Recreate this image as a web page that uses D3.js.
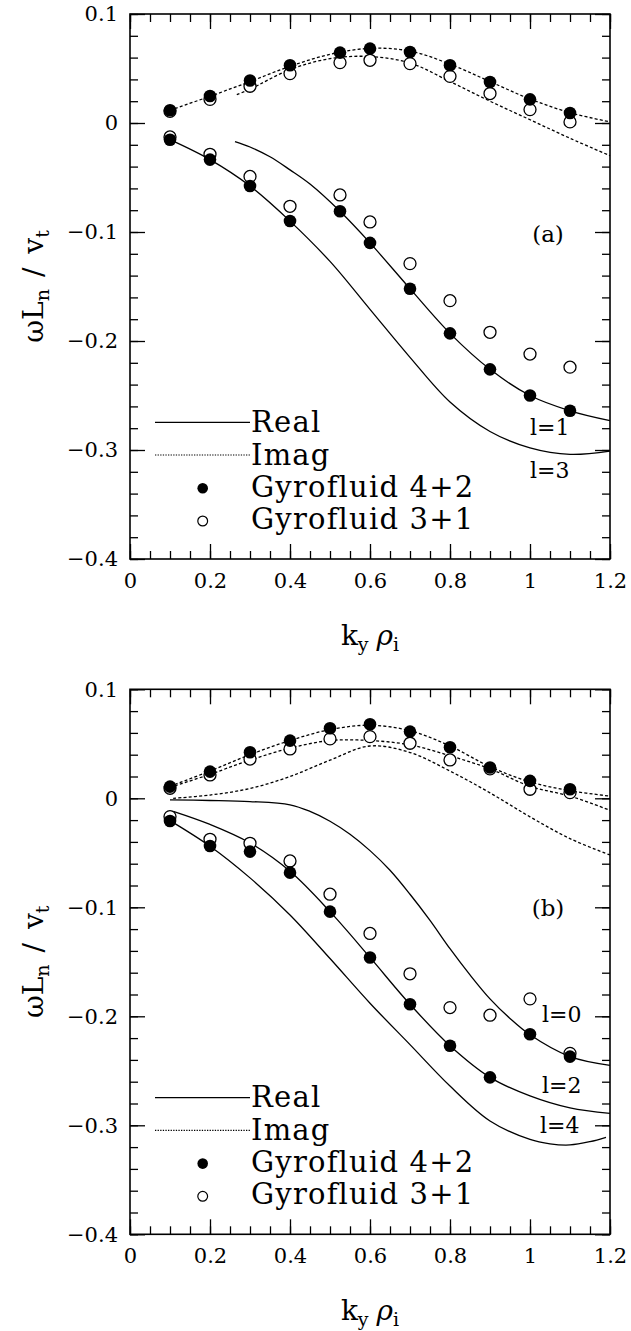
<!DOCTYPE html>
<html>
<head>
<meta charset="utf-8">
<script src="https://cdn.jsdelivr.net/npm/d3@7"></script>
<style>
  body { margin: 0; background: #fff; }
  text { font-family: "DejaVu Serif", serif; fill: #000; }
</style>
</head>
<body>
<div id="viz"></div>
<script>
// tick values / labels
const xMajorTicks = [0, 0.2, 0.4, 0.6, 0.8, 1, 1.2];
const xTickLabels = ['0', '0.2', '0.4', '0.6', '0.8', '1', '1.2'];
const yMajorTicks = [-0.4, -0.3, -0.2, -0.1, 0, 0.1];
const yTickLabels = ['\u22120.4', '\u22120.3', '\u22120.2', '\u22120.1', '0', '0.1'];

// panel (a) gyrofluid points
const kA = [0.1, 0.2, 0.3, 0.4, 0.525, 0.6, 0.7, 0.8, 0.9, 1.0, 1.1];
const aFilledRe = [-0.0153, -0.0336, -0.0578, -0.0899, -0.081, -0.110, -0.152, -0.193, -0.226, -0.250, -0.264];
const aFilledIm = [0.0117, 0.0248, 0.039, 0.053, 0.0646, 0.0682, 0.0652, 0.053, 0.0376, 0.0217, 0.0092];
const aOpenRe = [-0.0128, -0.0287, -0.049, -0.0764, -0.066, -0.0908, -0.129, -0.163, -0.192, -0.212, -0.224];
const aOpenIm = [0.0107, 0.0217, 0.0337, 0.0453, 0.0554, 0.0575, 0.0545, 0.0428, 0.027, 0.0123, 0.001];

// panel (a) kinetic curves
const kA3 = [0.1, 0.2, 0.3, 0.4, 0.5, 0.6, 0.7, 0.8, 0.9, 1.0, 1.1, 1.2];
const aL3Re = [-0.0153, -0.0336, -0.0578, -0.090, -0.127, -0.171, -0.215, -0.256, -0.283, -0.298, -0.304, -0.301];
const aL3Im = [0.0117, 0.0245, 0.038, 0.052, 0.063, 0.0685, 0.066, 0.054, 0.038, 0.022, 0.0095, 0.001];
const kA1 = [0.2625, 0.3, 0.35, 0.4, 0.45, 0.525, 0.6, 0.7, 0.8, 0.9, 1.0, 1.1, 1.2];
const aL1Re = [-0.017, -0.022, -0.031, -0.043, -0.056, -0.081, -0.110, -0.152, -0.193, -0.226, -0.250, -0.264, -0.273];
const kA1i = [0.267, 0.3, 0.4, 0.5, 0.6, 0.7, 0.8, 0.9, 1.0, 1.1, 1.2];
const aL1Im = [0.026, 0.031, 0.049, 0.059, 0.061, 0.055, 0.038, 0.020, 0.003, -0.014, -0.030];

// panel (b) gyrofluid points
const kB = [0.1, 0.2, 0.3, 0.4, 0.5, 0.6, 0.7, 0.8, 0.9, 1.0, 1.1];
const bFilledRe = [-0.0208, -0.0437, -0.0489, -0.0682, -0.104, -0.146, -0.189, -0.227, -0.256, -0.2165, -0.237];
const bFilledIm = [0.0107, 0.0245, 0.0422, 0.0529, 0.0642, 0.0679, 0.0612, 0.0468, 0.0282, 0.016, 0.0083];
const bOpenRe = [-0.0168, -0.0376, -0.0413, -0.0575, -0.088, -0.124, -0.161, -0.192, -0.199, -0.184, -0.234];
const bOpenIm = [0.0092, 0.0214, 0.036, 0.0453, 0.0545, 0.0566, 0.0505, 0.0352, 0.027, 0.0083, 0.0052];

// panel (b) kinetic curves
const kB0 = [0.1, 0.2, 0.3, 0.4, 0.45, 0.5, 0.55, 0.6, 0.65, 0.7, 0.75, 0.8, 0.85, 0.9, 0.95, 1.0, 1.1, 1.2];
const bL0Re = [-0.0015, -0.002, -0.003, -0.006, -0.012, -0.021, -0.033, -0.048, -0.066, -0.088, -0.112, -0.138, -0.162, -0.184, -0.202, -0.217, -0.237, -0.245];
const kB2 = [0.108, 0.2, 0.3, 0.4, 0.5, 0.6, 0.7, 0.8, 0.9, 1.0, 1.1, 1.2];
const bL2Re = [-0.012, -0.024, -0.041, -0.067, -0.104, -0.146, -0.189, -0.227, -0.256, -0.273, -0.284, -0.289];
const kB4 = [0.1, 0.2, 0.3, 0.4, 0.5, 0.6, 0.7, 0.8, 0.9, 1.0, 1.05, 1.1, 1.15, 1.19];
const bL4Re = [-0.0205, -0.044, -0.073, -0.107, -0.147, -0.188, -0.226, -0.264, -0.296, -0.313, -0.317, -0.318, -0.315, -0.311];
const kBi = [0.1, 0.2, 0.3, 0.4, 0.5, 0.6, 0.7, 0.8, 0.9, 1.0, 1.1, 1.2];
const bImTop = [0.011, 0.025, 0.040, 0.053, 0.063, 0.067, 0.062, 0.048, 0.029, 0.015, 0.007, 0.002];
const bImMid = [0.010, 0.022, 0.035, 0.046, 0.053, 0.053, 0.049, 0.039, 0.027, 0.011, 0.002, -0.011];
const kBlow = [0.108, 0.2, 0.3, 0.4, 0.5, 0.6, 0.7, 0.8, 0.9, 1.0, 1.1, 1.2];
const bImLow = [0, 0.003, 0.009, 0.020, 0.035, 0.048, 0.042, 0.025, 0.005, -0.017, -0.037, -0.052];

const left = 130;
const plotW = 480;
const plotH = 545;

const svg = d3.select('#viz')
      .append('svg')
      .attr('width', 631)
      .attr('height', 1331);

const x = d3.scaleLinear().domain([0, 1.2]).range([0, plotW]);
const y = d3.scaleLinear().domain([-0.4, 0.1]).range([plotH, 0]);

const xMinor = d3.range(0, 25).map(i => i * 0.05);
const yMinor = d3.range(0, 26).map(i => -0.4 + i * 0.02);

const line = d3.line()
      .x(d => x(d[0]))
      .y(d => y(d[1]))
      .curve(d3.curveCatmullRom.alpha(0.5));

function zip(ks, vs) {
    return ks.map((k, i) => [k, vs[i]]);
}

function styleAxis(g) {
    g.select('.domain').remove();
    g.selectAll('line').attr('stroke', '#000').attr('stroke-width', 1.3);
    g.selectAll('text')
        .attr('font-family', 'DejaVu Serif')
        .attr('font-size', 21)
        .attr('fill', '#000');
}

function drawPanel(top, panel) {
    const g = svg.append('g').attr('transform', `translate(${left} ${top})`);

    // ticks on all four sides, pointing in
    g.append('g').attr('transform', `translate(0 ${plotH})`)
        .call(d3.axisBottom(x).tickValues(xMinor).tickSize(-8).tickFormat(''))
        .call(styleAxis);
    g.append('g').attr('transform', `translate(0 ${plotH})`)
        .call(d3.axisBottom(x).tickValues(xMajorTicks).tickSize(-15).tickPadding(14)
              .tickFormat((d, i) => xTickLabels[i]))
        .call(styleAxis);
    g.append('g')
        .call(d3.axisTop(x).tickValues(xMinor).tickSize(-8).tickFormat(''))
        .call(styleAxis);
    g.append('g')
        .call(d3.axisTop(x).tickValues(xMajorTicks).tickSize(-15).tickFormat(''))
        .call(styleAxis);
    g.append('g')
        .call(d3.axisLeft(y).tickValues(yMinor).tickSize(-8).tickFormat(''))
        .call(styleAxis);
    g.append('g')
        .call(d3.axisLeft(y).tickValues(yMajorTicks).tickSize(-15).tickPadding(12)
              .tickFormat((d, i) => yTickLabels[i]))
        .call(styleAxis);
    g.append('g').attr('transform', `translate(${plotW} 0)`)
        .call(d3.axisRight(y).tickValues(yMinor).tickSize(-8).tickFormat(''))
        .call(styleAxis);
    g.append('g').attr('transform', `translate(${plotW} 0)`)
        .call(d3.axisRight(y).tickValues(yMajorTicks).tickSize(-15).tickFormat(''))
        .call(styleAxis);

    g.append('rect')
        .attr('width', plotW)
        .attr('height', plotH)
        .attr('fill', 'none')
        .attr('stroke', '#000')
        .attr('stroke-width', 1.6);

    // curves
    panel.real.forEach(c => {
        g.append('path')
            .attr('d', line(c))
            .attr('fill', 'none')
            .attr('stroke', '#000')
            .attr('stroke-width', 1.3);
    });
    panel.imag.forEach(c => {
        g.append('path')
            .attr('d', line(c))
            .attr('fill', 'none')
            .attr('stroke', '#000')
            .attr('stroke-width', 1.3)
            .attr('stroke-dasharray', '3,2.2');
    });

    // gyrofluid points
    const open = panel.open.flat();
    const filled = panel.filled.flat();
    g.selectAll('circle.open')
        .data(open)
        .enter().append('circle')
        .attr('cx', d => x(d[0]))
        .attr('cy', d => y(d[1]))
        .attr('r', 6)
        .attr('fill', '#fff')
        .attr('stroke', '#000')
        .attr('stroke-width', 1.3);
    g.selectAll('circle.filled')
        .data(filled)
        .enter().append('circle')
        .attr('cx', d => x(d[0]))
        .attr('cy', d => y(d[1]))
        .attr('r', 6.3)
        .attr('fill', '#000');

    // legend
    g.append('line')
        .attr('x1', 25).attr('x2', 120)
        .attr('y1', 408.3).attr('y2', 408.3)
        .attr('stroke', '#000').attr('stroke-width', 1.3);
    g.append('line')
        .attr('x1', 25).attr('x2', 120)
        .attr('y1', 441).attr('y2', 441)
        .attr('stroke', '#000').attr('stroke-width', 1.2)
        .attr('stroke-dasharray', '1.3,1.3');
    g.append('circle')
        .attr('cx', 72.7).attr('cy', 474.3).attr('r', 5.3)
        .attr('fill', '#000');
    g.append('circle')
        .attr('cx', 72.7).attr('cy', 507).attr('r', 4.9)
        .attr('fill', '#fff').attr('stroke', '#000').attr('stroke-width', 1.2);

    const legendText = ['Real', 'Imag', 'Gyrofluid 4+2', 'Gyrofluid 3+1'];
    const legendY = [417.7, 451, 482.7, 515];
    legendText.forEach((t, i) => {
        g.append('text')
            .attr('x', 121)
            .attr('y', legendY[i])
            .attr('font-size', 29)
            .attr('letter-spacing', 1.2)
            .text(t);
    });

    // panel tag and mode labels
    g.append('text')
        .attr('x', 418)
        .attr('y', panel.tagY)
        .attr('text-anchor', 'middle')
        .attr('font-size', 23)
        .text(panel.tag);
    panel.modes.forEach(m => {
        g.append('text')
            .attr('x', m.x)
            .attr('y', m.y)
            .attr('font-size', 22)
            .text(m.t);
    });

    // axis titles
    const xl = g.append('text')
        .attr('x', plotW / 2)
        .attr('y', 631)
        .attr('text-anchor', 'middle')
        .attr('font-size', 28);
    xl.append('tspan').text('k');
    xl.append('tspan').attr('font-size', 19).attr('dy', 6).text('y');
    xl.append('tspan').attr('dy', -6).attr('dx', 8).attr('font-style', 'italic').text('\u03c1');
    xl.append('tspan').attr('font-size', 19).attr('dy', 6).text('i');

    const yl = g.append('text')
        .attr('transform', `translate(${43 - left} ${plotH / 2}) rotate(-90)`)
        .attr('text-anchor', 'middle')
        .attr('font-size', 28);
    yl.append('tspan').text('\u03c9L');
    yl.append('tspan').attr('font-size', 19).attr('dy', 6).text('n');
    yl.append('tspan').attr('dy', -6).attr('dx', 12).text('/');
    yl.append('tspan').attr('dx', 14).text('v');
    yl.append('tspan').attr('font-size', 19).attr('dy', 6).text('t');
}

drawPanel(14, {
    real: [zip(kA3, aL3Re), zip(kA1, aL1Re)],
    imag: [zip(kA3, aL3Im), zip(kA1i, aL1Im)],
    filled: [zip(kA, aFilledRe), zip(kA, aFilledIm)],
    open: [zip(kA, aOpenRe), zip(kA, aOpenIm)],
    tag: '(a)',
    tagY: 228,
    modes: [{t: 'l=1', x: 400, y: 421}, {t: 'l=3', x: 400, y: 464}]
});

drawPanel(689.3, {
    real: [zip(kB0, bL0Re), zip(kB2, bL2Re), zip(kB4, bL4Re)],
    imag: [zip(kBi, bImTop), zip(kBi, bImMid), zip(kBlow, bImLow)],
    filled: [zip(kB, bFilledRe), zip(kB, bFilledIm)],
    open: [zip(kB, bOpenRe), zip(kB, bOpenIm)],
    tag: '(b)',
    tagY: 226.7,
    modes: [{t: 'l=0', x: 412, y: 332.7}, {t: 'l=2', x: 412, y: 403.7}, {t: 'l=4', x: 410, y: 443.7}]
});
</script>
</body>
</html>
